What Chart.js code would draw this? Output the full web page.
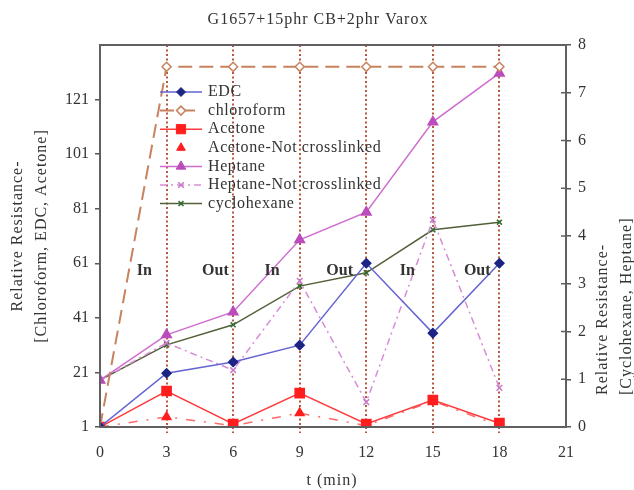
<!DOCTYPE html>
<html>
<head>
<meta charset="utf-8">
<script src="https://cdn.jsdelivr.net/npm/chart.js@4.4.1/dist/chart.umd.min.js"></script>
<style>
  html, body { margin: 0; padding: 0; background: #fff; }
</style>
</head>
<body>
<canvas id="c" width="634" height="490"></canvas>
<script>
// time axis (min)
const times = [0, 3, 6, 9, 12, 15, 18];

// left axis series
const edc = [1, 20.7, 24.8, 31, 61, 35.4, 61];
const chloroform = [1, 133, 133, 133, 133, 133, 133];
const acetone = [1, 14.2, 2.1, 13.4, 2.1, 10.9, 2.4];
const acetoneNC = [1, 4.7, 1.5, 6.1, 1.5, 10.5, 1.5];

// right axis series
const heptane = [0.98, 1.93, 2.41, 3.92, 4.5, 6.39, 7.41];
const heptaneNC = [0.98, 1.76, 1.19, 3.06, 0.52, 4.34, 0.82];
const cyclohexane = [0.98, 1.72, 2.14, 2.95, 3.23, 4.13, 4.29];

// ticks
const xTicks = [0, 3, 6, 9, 12, 15, 18, 21];
const leftTicks = [1, 21, 41, 61, 81, 101, 121];
const rightTicks = [0, 1, 2, 3, 4, 5, 6, 7, 8];

const phaseLabels = ['In', 'Out', 'In', 'Out', 'In', 'Out'];

const SERIF = "'Liberation Serif', 'Times New Roman', serif";

function pts(ys) {
    return times.map((t, i) => ({ x: t, y: ys[i] }));
}

const datasets = [
    { label: 'EDC', data: pts(edc), yAxisID: 'y',
      borderColor: '#6464d2', borderWidth: 1.5,
      pointStyle: 'rectRot', pointRadius: 4.5, pointBackgroundColor: '#1c2484', pointBorderColor: '#1c2484' },
    { label: 'chloroform', data: pts(chloroform), yAxisID: 'y',
      borderColor: '#c8825e', borderWidth: 2, borderDash: [14, 7],
      pointStyle: 'rectRot', pointRadius: 4.5, pointBackgroundColor: '#ffffff', pointBorderColor: '#c8825e', pointBorderWidth: 1.5 },
    { label: 'Acetone', data: pts(acetone), yAxisID: 'y',
      borderColor: '#ff3a3a', borderWidth: 1.5,
      pointStyle: 'rect', pointRadius: 6.5, pointBackgroundColor: '#ff1e1e', pointBorderColor: '#ff1e1e' },
    { label: 'Acetone-Not crosslinked', data: pts(acetoneNC), yAxisID: 'y', noLegendLine: true,
      borderColor: '#ff6a6a', borderWidth: 1.5, borderDash: [9, 9, 2, 9],
      pointStyle: 'triangle', pointRadius: 5, pointBackgroundColor: '#ff1e1e', pointBorderColor: '#ff1e1e' },
    { label: 'Heptane', data: pts(heptane), yAxisID: 'yR',
      borderColor: '#cf6ccf', borderWidth: 1.5,
      pointStyle: 'triangle', pointRadius: 5.5, pointBackgroundColor: '#bb4cbb', pointBorderColor: '#bb4cbb' },
    { label: 'Heptane-Not crosslinked', data: pts(heptaneNC), yAxisID: 'yR',
      borderColor: '#d88cd8', borderWidth: 1.5, borderDash: [7, 4, 2, 4],
      pointStyle: 'crossRot', pointRadius: 4, pointBackgroundColor: '#c878c8', pointBorderColor: '#c878c8', pointBorderWidth: 1.5 },
    { label: 'cyclohexane', data: pts(cyclohexane), yAxisID: 'yR',
      borderColor: '#52603a', borderWidth: 1.5,
      pointStyle: 'crossRot', pointRadius: 3.5, pointBackgroundColor: '#2f6a2f', pointBorderColor: '#2f6a2f', pointBorderWidth: 1.5 }
];

// title, axis titles, frame, In/Out notes and the legend inside the plot
const decor = {
    id: 'decor',
    afterDatasetsDraw(chart) {
        const { ctx, chartArea: a, scales } = chart;
        ctx.save();

        // frame
        ctx.strokeStyle = '#606060';
        ctx.lineWidth = 2;
        ctx.strokeRect(a.left, a.top, a.right - a.left, a.bottom - a.top);

        // inner half of right axis ticks
        ctx.lineWidth = 1.5;
        rightTicks.forEach(v => {
            const y = scales.yR.getPixelForValue(v);
            ctx.beginPath();
            ctx.moveTo(a.right - 5, y);
            ctx.lineTo(a.right, y);
            ctx.stroke();
        });

        ctx.fillStyle = '#333';
        ctx.letterSpacing = '1px';
        ctx.textBaseline = 'middle';

        // chart title
        ctx.font = '16px ' + SERIF;
        ctx.textAlign = 'center';
        ctx.fillText('G1657+15phr CB+2phr Varox', 318, 20);

        // x title
        ctx.fillText('t (min)', 332, 481);

        // left title
        ctx.save();
        ctx.translate(18, 236);
        ctx.rotate(-Math.PI / 2);
        ctx.fillText('Relative Resistance-', 0, 0);
        ctx.fillText('[Chloroform, EDC, Acetone]', 0, 24);
        ctx.restore();

        // right title
        ctx.save();
        ctx.translate(603, 395);
        ctx.rotate(-Math.PI / 2);
        ctx.textAlign = 'left';
        ctx.fillText('Relative Resistance-', 0, 0);
        ctx.fillText('[Cyclohexane, Heptane]', 0, 24);
        ctx.restore();

        // In / Out notes
        const noteX = [2.0, 5.2, 7.75, 10.8, 13.85, 17.0];
        ctx.font = 'bold 16px ' + SERIF;
        ctx.letterSpacing = '0px';
        phaseLabels.forEach((s, i) => {
            ctx.fillText(s, scales.x.getPixelForValue(noteX[i]), scales.y.getPixelForValue(58.4));
        });

        // legend
        ctx.font = '16px ' + SERIF;
        ctx.letterSpacing = '0.6px';
        ctx.textAlign = 'left';
        chart.data.datasets.forEach((ds, i) => {
            const y = 92 + i * 18.6;
            if (!ds.noLegendLine) {
                ctx.save();
                ctx.strokeStyle = ds.borderColor;
                ctx.lineWidth = ds.borderWidth;
                ctx.setLineDash(ds.borderDash || []);
                ctx.beginPath();
                ctx.moveTo(160, y);
                ctx.lineTo(202, y);
                ctx.stroke();
                ctx.restore();
            }
            ctx.save();
            ctx.fillStyle = ds.pointBackgroundColor;
            ctx.strokeStyle = ds.pointBorderColor;
            ctx.lineWidth = ds.pointBorderWidth || 1;
            Chart.helpers.drawPoint(ctx, { pointStyle: ds.pointStyle, radius: ds.pointRadius, rotation: 0, borderWidth: ds.pointBorderWidth || 1 }, 181, y);
            ctx.restore();
            ctx.fillStyle = '#333';
            ctx.fillText(ds.label, 208, y);
        });

        ctx.restore();
    }
};

new Chart(document.getElementById('c'), {
    type: 'line',
    data: { datasets: datasets },
    options: {
        responsive: false,
        animation: false,
        layout: { padding: { top: 45 } },
        elements: { line: { tension: 0 } },
        plugins: { legend: { display: false }, tooltip: { enabled: false } },
        scales: {
            x: {
                type: 'linear', min: 0, max: 21,
                afterBuildTicks: s => { s.ticks = xTicks.map(v => ({ value: v })); },
                afterFit: s => { s.height = 63; },
                ticks: { color: '#333', font: { family: SERIF, size: 16 }, padding: 10, maxRotation: 0 },
                grid: {
                    color: c => (c.tick && (c.tick.value === 0 || c.tick.value === 21)) ? 'rgba(0,0,0,0)' : '#b5583c',
                    lineWidth: 2, tickLength: 6, tickBorderDash: [2, 2.5]
                },
                border: { display: false, dash: [2, 2.5] }
            },
            y: {
                type: 'linear', position: 'left', min: 1, max: 141,
                afterBuildTicks: s => { s.ticks = leftTicks.map(v => ({ value: v })); },
                afterFit: s => { s.width = 100; },
                ticks: { color: '#333', font: { family: SERIF, size: 16 }, padding: 6 },
                grid: { drawOnChartArea: false, color: '#555', lineWidth: 1.5, tickLength: 5 },
                border: { display: false }
            },
            yR: {
                type: 'linear', position: 'right', min: 0, max: 8,
                afterBuildTicks: s => { s.ticks = rightTicks.map(v => ({ value: v })); },
                afterFit: s => { s.width = 68; },
                ticks: { color: '#333', font: { family: SERIF, size: 16 }, padding: 7 },
                grid: { drawOnChartArea: false, color: '#555', lineWidth: 1.5, tickLength: 5 },
                border: { display: false }
            }
        }
    },
    plugins: [decor]
});
</script>
</body>
</html>
